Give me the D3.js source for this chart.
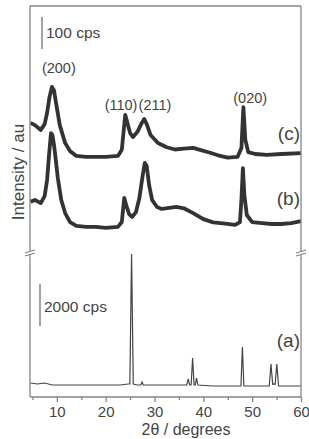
<!DOCTYPE html>
<html>
<head>
<meta charset="utf-8">
<script src="https://cdn.jsdelivr.net/npm/d3@7"></script>
<style>
  body { margin: 0; background: #fff; }
  text { font-family: "Liberation Sans", Arial, sans-serif; fill: #444; }
</style>
</head>
<body>
<svg id="chart" width="309" height="439"></svg>
<script>
// 2theta (degrees) and stacked counts
var cTheta = [4.6, 5.5, 6.7, 7.5, 8.0, 8.5, 9.0, 9.4, 9.9, 10.6, 11.7, 12.7, 14, 16, 18, 20, 22.5, 23.3, 23.8, 24.0, 24.4, 25.0, 25.6, 26.5, 27.3, 27.9, 28.4, 29.2, 30.7, 32.5, 34.2, 36, 37.9, 39.5, 41.4, 43, 45, 47, 47.8, 48.2, 48.6, 49.2, 50.6, 53, 56, 60];
var cCounts = [396, 389, 374, 392, 427, 477, 508, 498, 452, 389, 333, 308, 293, 290, 290, 290, 293, 312, 389, 421, 399, 364, 352, 368, 393, 408, 392, 358, 333, 320, 313, 316, 318, 311, 303, 295, 288, 290, 318, 445, 343, 305, 299, 296, 299, 302];

var bTheta = [4.6, 5.5, 6.7, 7.5, 8.0, 8.4, 8.8, 9.1, 9.5, 10.2, 10.9, 11.7, 12.7, 14, 16, 18, 20, 22.5, 23.3, 23.8, 24.2, 24.8, 25.4, 26.2, 26.9, 27.5, 28.0, 28.4, 28.9, 29.5, 30.5, 31.5, 33, 34.5, 36, 38, 40, 42, 44.5, 46.5, 47.5, 47.8, 48.1, 48.4, 48.9, 50, 52, 54, 56, 58, 60];
var bCounts = [150, 156, 146, 168, 218, 296, 364, 358, 318, 224, 156, 115, 87, 75, 72, 72, 69, 72, 87, 162, 140, 112, 103, 118, 162, 224, 271, 262, 202, 156, 134, 128, 131, 134, 130, 114, 96, 86, 82, 78, 87, 156, 255, 171, 109, 87, 84, 81, 81, 84, 90];

var aTheta = [4.6, 6, 7.5, 9, 12, 16, 20, 23, 24.6, 24.95, 25.3, 25.65, 26.5, 27.2, 27.45, 27.7, 30, 34, 36.6, 36.9, 37.2, 37.5, 37.8, 38.1, 38.35, 38.6, 38.9, 42, 47.7, 48.0, 48.3, 53.5, 53.85, 54.2, 54.45, 54.7, 55.05, 55.4, 58, 60];
var aCounts = [666, 619, 666, 571, 571, 571, 571, 571, 619, 619, 6807, 619, 571, 571, 714, 571, 571, 571, 571, 857, 571, 571, 1856, 571, 571, 904, 571, 524, 524, 2380, 524, 524, 1571, 600, 620, 600, 1571, 524, 524, 524];

var xTicksMajor = [10, 20, 30, 40, 50, 60];
var xTicksMinor = [5, 15, 25, 35, 45, 55];

var peakLabels = ["(200)", "(110)", "(211)", "(020)"];
var peakLabelTheta = [10.4, 23.15, 30.1, 49.6];
var peakLabelCounts = [551, 436, 436, 458];

var curveNames = ["(c)", "(b)"];
var curveNameCounts = [343, 140];

var padL = 30, padR = 301, padT = 6, padB = 397, breakY = 253;

var svg = d3.select("#chart");

var x = d3.scaleLinear().domain([4.5, 60]).range([padL, padR]);
var yTop = d3.scaleLinear().domain([0, 760]).range([250, padT]);
var yBot = d3.scaleLinear().domain([0, 6900]).range([padB, 252]);

function zip(t, v) {
  return t.map(function (d, i) { return [d, v[i]]; });
}

var lineTop = d3.line()
  .x(function (d) { return x(d[0]); })
  .y(function (d) { return yTop(d[1]); });
var lineBot = d3.line()
  .x(function (d) { return x(d[0]); })
  .y(function (d) { return yBot(d[1]); });

// noisy patterns drawn as a thick band
[zip(cTheta, cCounts), zip(bTheta, bCounts)].forEach(function (pts) {
  svg.append("path")
    .datum(pts)
    .attr("d", lineTop)
    .attr("fill", "none")
    .attr("stroke", "#333")
    .attr("stroke-width", 3.8)
    .attr("stroke-linejoin", "round");
});

svg.append("path")
  .datum(zip(aTheta, aCounts))
  .attr("d", lineBot)
  .attr("fill", "none")
  .attr("stroke", "#444")
  .attr("stroke-width", 1.2);

// frame with broken side axes
var frameColor = "#858585";
var frame = svg.append("g")
  .attr("stroke", frameColor)
  .attr("stroke-width", 1.3)
  .attr("fill", "none");

frame.append("line").attr("x1", padL).attr("x2", padR).attr("y1", padT).attr("y2", padT);
frame.append("line").attr("x1", padL).attr("x2", padR).attr("y1", padB).attr("y2", padB);
[padL, padR].forEach(function (ax) {
  frame.append("line").attr("x1", ax).attr("x2", ax).attr("y1", padT).attr("y2", breakY - 1.5);
  frame.append("line").attr("x1", ax).attr("x2", ax).attr("y1", breakY + 1.5).attr("y2", padB);
  frame.append("line").attr("x1", ax - 5).attr("x2", ax + 5).attr("y1", breakY).attr("y2", breakY - 3);
  frame.append("line").attr("x1", ax - 5).attr("x2", ax + 5).attr("y1", breakY + 3).attr("y2", breakY);
});

// bottom axis
var xAxis = d3.axisBottom(x).tickValues(xTicksMajor).tickSize(5).tickPadding(4)
  .tickFormat(d3.format("d"));
var gx = svg.append("g")
  .attr("transform", "translate(0," + padB + ")")
  .call(xAxis);
gx.select(".domain").remove();
gx.selectAll(".tick line").attr("stroke", frameColor).attr("stroke-width", 1.3);
gx.selectAll(".tick text")
  .attr("fill", "#444")
  .style("font-size", "15px");

var gxMinor = svg.append("g")
  .attr("transform", "translate(0," + padB + ")")
  .call(d3.axisBottom(x).tickValues(xTicksMinor).tickSize(3).tickFormat(""));
gxMinor.select(".domain").remove();
gxMinor.selectAll(".tick line").attr("stroke", frameColor).attr("stroke-width", 1.3);

svg.append("text")
  .attr("x", 186)
  .attr("y", 435)
  .attr("text-anchor", "middle")
  .style("font-size", "16px")
  .text("2θ / degrees");

svg.append("text")
  .attr("transform", "translate(24,172) rotate(-90)")
  .attr("text-anchor", "middle")
  .style("font-size", "17px")
  .text("Intensity / au");

// scale bars
var barTop = [626, 726];
svg.append("line")
  .attr("x1", 42).attr("x2", 42)
  .attr("y1", yTop(barTop[0])).attr("y2", yTop(barTop[1]))
  .attr("stroke", frameColor).attr("stroke-width", 1.5);
svg.append("text")
  .attr("x", 46).attr("y", 38)
  .style("font-size", "15.5px")
  .text("100 cps");

var barBot = [3380, 5380];
svg.append("line")
  .attr("x1", 40).attr("x2", 40)
  .attr("y1", yBot(barBot[0])).attr("y2", yBot(barBot[1]))
  .attr("stroke", frameColor).attr("stroke-width", 1.5);
svg.append("text")
  .attr("x", 44).attr("y", 312)
  .style("font-size", "15.5px")
  .text("2000 cps");

// peak labels
svg.selectAll("text.peak")
  .data(peakLabels)
  .enter()
  .append("text")
  .attr("class", "peak")
  .attr("x", function (d, i) { return x(peakLabelTheta[i]); })
  .attr("y", function (d, i) { return yTop(peakLabelCounts[i]); })
  .attr("text-anchor", "middle")
  .style("font-size", "14.5px")
  .text(function (d) { return d; });

// curve names
svg.selectAll("text.curve")
  .data(curveNames)
  .enter()
  .append("text")
  .attr("class", "curve")
  .attr("x", 300)
  .attr("y", function (d, i) { return yTop(curveNameCounts[i]); })
  .attr("text-anchor", "end")
  .style("font-size", "19px")
  .text(function (d) { return d; });

svg.append("text")
  .attr("x", 300)
  .attr("y", yBot(2380))
  .attr("text-anchor", "end")
  .style("font-size", "19px")
  .text("(a)");
</script>
</body>
</html>
